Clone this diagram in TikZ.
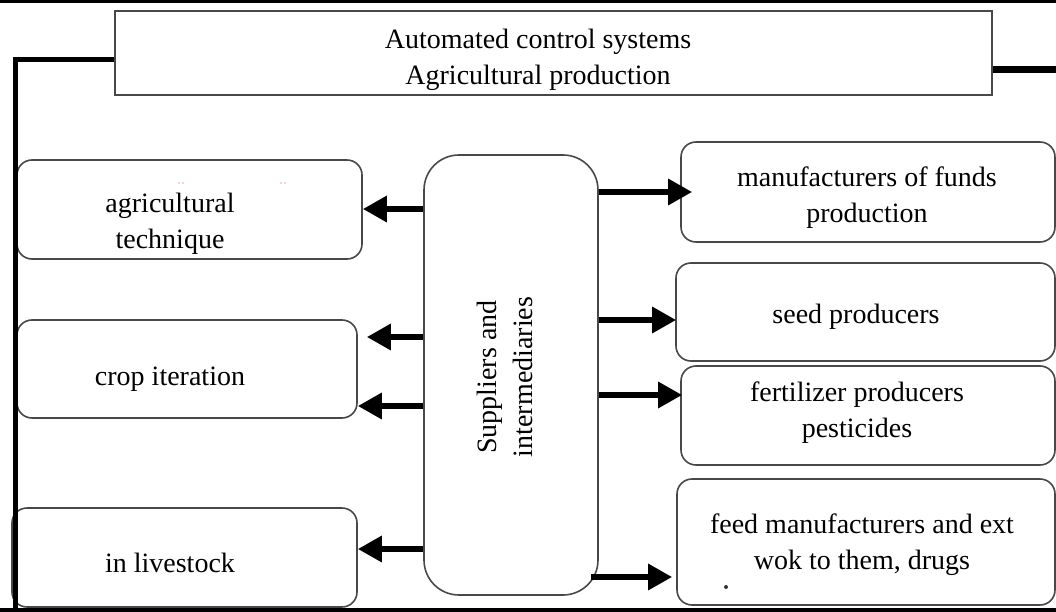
\documentclass[tikz,border=0pt]{standalone}
\usepackage{fontspec}
\setmainfont{Liberation Serif}
\usetikzlibrary{arrows.meta,calc}
\definecolor{edge}{HTML}{484848}
\tikzset{
  box/.style={draw=edge, line width=1.6pt, rounded corners=15pt, inner sep=0pt},
  sqbox/.style={draw=edge, line width=1.6pt, inner sep=0pt},
  txt/.style={align=center, inner sep=0pt, font=\fontsize{28}{36}\selectfont},
  arr/.style={line width=6pt, -{Triangle[length=24pt,width=25pt]}},
  frame/.style={line width=5pt, black},
}
\begin{document}
\begin{tikzpicture}[x=1pt,y=-1pt]
\useasboundingbox (0,0) rectangle (1056,612);
% top box
\node[sqbox, minimum width=877pt, minimum height=84pt] (top) at (553.5,53) {};
\node[txt] (topt) at (538,60) {Automated control systems\\Agricultural production};
% left boxes
\node[box, minimum width=345pt, minimum height=99pt] (lb1) at (189.5,209.5) {};
\node[txt] (lb1t) at (170,224) {agricultural\\technique};
\node[box, minimum width=340pt, minimum height=98pt] (lb2) at (187,369) {};
\node[txt] (lb2t) at (170,379) {crop iteration};
\node[box, minimum width=345pt, minimum height=99pt] (lb3) at (184.5,557.5) {};
\node[txt] (lb3t) at (170,563) {in livestock};
% middle box
\node[box, rounded corners=35pt, minimum width=174pt, minimum height=440pt] (mid) at (511,375) {};
\node[txt, rotate=90] (midt) at (505,377) {Suppliers and\\intermediaries};
% right boxes
\node[box, minimum width=374pt, minimum height=100pt] (rb1) at (868,192) {};
\node[txt] (rb1t) at (867,198) {manufacturers of funds\\production};
\node[box, minimum width=379pt, minimum height=98pt] (rb2) at (865.5,312) {};
\node[txt] (rb2t) at (856,317) {seed producers};
\node[box, minimum width=374pt, minimum height=99pt] (rb3) at (868,415.5) {};
\node[txt] (rb3t) at (857,413) {fertilizer producers\\pesticides};
\node[box, minimum width=378pt, minimum height=126pt] (rb4) at (866,542) {};
\node[txt] (rb4t) at (862,545) {feed manufacturers and ext\\wok to them, drugs};
% small marks
\fill[black!80] (726,587) circle (2pt);
\fill[red!30!gray!50] (179,183) circle (0.8pt) (183,183) circle (0.8pt);
\fill[red!30!gray!50] (281,183) circle (0.8pt) (285,183) circle (0.8pt);
% frame lines
\draw[line width=4pt] (0,1.5) -- (1056,1.5);
\draw[line width=4pt] (0,610) -- (1056,610);
\draw[frame] (top.west |- 0,60) -- (15,60) -- (15,612);
\draw[line width=7pt] (top.east |- 0,70) -- (1056,70);
% arrows left
\draw[arr] (mid.west |- 0,209) -- (lb1.east |- 0,209);
\draw[arr] (mid.west |- 0,337) -- ($(lb2.east |- 0,337)+(9,0)$);
\draw[arr] (mid.west |- 0,406) -- (lb2.east |- 0,406);
\draw[arr] (mid.west |- 0,549) -- (lb3.east |- 0,549);
% arrows right
\draw[arr] (mid.east |- 0,192) -- ($(rb1.west |- 0,192)+(12,0)$);
\draw[arr] (mid.east |- 0,320) -- ($(rb2.west |- 0,320)+(1,0)$);
\draw[arr] (mid.east |- 0,395) -- ($(rb3.west |- 0,395)+(2,0)$);
\draw[arr] ($(mid.east |- 0,577)+(-8,0)$) -- ($(rb4.west |- 0,577)+(-4,0)$);
\end{tikzpicture}
\end{document}
